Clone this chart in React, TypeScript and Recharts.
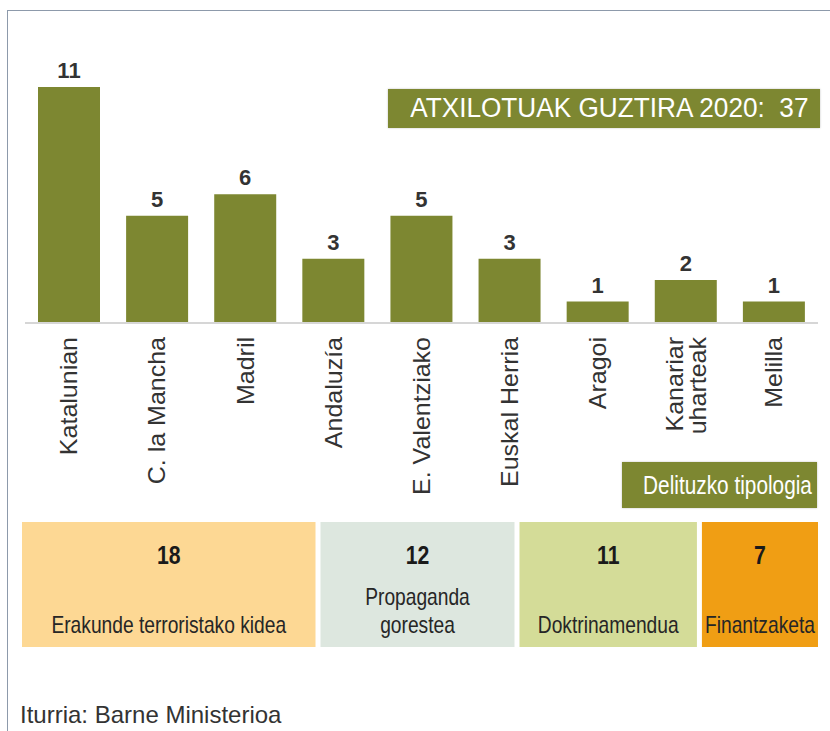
import { BarChart, Bar, XAxis, YAxis, LabelList } from 'recharts';

const categories = [
  'Katalunian',
  'C. la Mancha',
  'Madril',
  'Andaluzía',
  'E. Valentziako',
  'Euskal Herria',
  'Aragoi',
  'Kanariar\nuharteak',
  'Melilla',
];
const arrests = [11, 5, 6, 3, 5, 3, 1, 2, 1];

const typologyNames = ['Erakunde terroristako kidea', 'Propaganda\ngorestea', 'Doktrinamendua', 'Finantzaketa'];
const typologyValues = [18, 12, 11, 7];
const typologyColors = ['#fdd894', '#dde7df', '#d4dc98', '#f09e14'];

const totalLabel = 'ATXILOTUAK GUZTIRA 2020:  37';
const typologyTitle = 'Delituzko tipologia';
const sourceText = 'Iturria: Barne Ministerioa';

const OLIVE = '#7d8731';
const INK = '#333333';
const FONT = '"Liberation Sans", Arial, sans-serif';

const barData = categories.map((name, i) => ({ name, value: arrests[i] }));

const typologyRow: Record<string, number | string> = { row: 'guztira' };
typologyValues.forEach((v, i) => {
  typologyRow[`t${i}`] = v;
});

interface TickProps {
  x?: number;
  y?: number;
  payload?: { value: string };
}

// rotated category labels, multi-line names split on \n
const RotatedTick = ({ x = 0, y = 0, payload }: TickProps) => {
  const lines = String(payload?.value ?? '').split('\n');
  const lh = 25;
  const first = -((lines.length - 1) * lh) / 2;
  return (
    <g transform={`translate(${x},${y})`}>
      {lines.map((line, i) => (
        <text
          key={i}
          transform="rotate(-90) scale(1,0.92)"
          x={0}
          y={first + i * lh}
          dy="0.36em"
          textAnchor="end"
          fill={INK}
          fontSize={25}
          fontFamily={FONT}
        >
          {line}
        </text>
      ))}
    </g>
  );
};

interface BoxProps {
  x?: number;
  y?: number;
  width?: number;
  height?: number;
}

const GAP = 5;

// each typology segment: coloured box, bold count on top, name underneath
const makeBox = (i: number) => (props: BoxProps) => {
  const { x = 0, y = 0, width = 0, height = 0 } = props;
  const w = i === typologyValues.length - 1 ? width : width - GAP;
  const cx = x + w / 2;
  const lines = typologyNames[i].split('\n');
  const bottom = y + height - 14;
  return (
    <g>
      <rect x={x} y={y} width={w} height={height} fill={typologyColors[i]} />
      <text
        transform={`translate(${cx},${y + 42}) scale(0.85,1)`}
        textAnchor="middle"
        fontSize={25}
        fontWeight="bold"
        fill="#1a1a1a"
        fontFamily={FONT}
      >
        {typologyValues[i]}
      </text>
      {lines.map((line, k) => (
        <text
          key={k}
          transform={`translate(${cx},${bottom - (lines.length - 1 - k) * 28}) scale(0.8,1)`}
          textAnchor="middle"
          fontSize={24}
          fill="#262626"
          fontFamily={FONT}
        >
          {line}
        </text>
      ))}
    </g>
  );
};

export default function App() {
  return (
    <div style={{ position: 'absolute', left: 0, top: 0, width: 830, height: 731, background: '#fff', overflow: 'hidden', fontFamily: FONT }}>
      <div
        style={{
          position: 'absolute',
          left: 7,
          top: 10,
          width: 840,
          height: 740,
          borderTop: '1.5px solid #8d9aab',
          borderLeft: '1.5px solid #8d9aab',
        }}
      />
      <div style={{ position: 'absolute', left: 0, top: 0 }}>
        <BarChart width={830} height={520} data={barData} margin={{ top: 87, right: 12, left: 25, bottom: 0 }}>
          <XAxis
            dataKey="name"
            interval={0}
            height={197}
            tickLine={false}
            tickSize={6}
            tickMargin={8}
            axisLine={{ stroke: '#d6d6d6', strokeWidth: 2 }}
            tick={<RotatedTick />}
          />
          <YAxis hide domain={[0, 11]} width={0} />
          <Bar dataKey="value" fill={OLIVE} barSize={62} isAnimationActive={false}>
            <LabelList
              dataKey="value"
              position="top"
              offset={9}
              fill={INK}
              fontSize={22}
              fontWeight="bold"
              fontFamily={FONT}
            />
          </Bar>
        </BarChart>
      </div>
      <div
        style={{
          position: 'absolute',
          left: 388,
          top: 89,
          width: 432,
          height: 39,
          background: OLIVE,
          color: '#fff',
          fontSize: 27,
          lineHeight: '39px',
          textAlign: 'center',
          whiteSpace: 'pre',
          boxShadow: '0 0 2px rgba(0,0,0,0.25)',
        }}
      >
        <span style={{ display: 'inline-block', transform: 'scaleX(0.97)', marginLeft: 10 }}>{totalLabel}</span>
      </div>
      <div
        style={{
          position: 'absolute',
          left: 622,
          top: 462,
          width: 195,
          height: 46,
          background: OLIVE,
          color: '#fff',
          lineHeight: '46px',
          textAlign: 'center',
          whiteSpace: 'pre',
          boxShadow: '0 0 2px rgba(0,0,0,0.25)',
        }}
      >
        <span style={{ display: 'inline-block', fontSize: 26, transform: 'scaleX(0.8)' }}>{typologyTitle}</span>
      </div>
      <div style={{ position: 'absolute', left: 0, top: 512 }}>
        <BarChart
          width={830}
          height={145}
          layout="vertical"
          data={[typologyRow]}
          barCategoryGap="0%"
          margin={{ top: 10, right: 12, left: 22, bottom: 10 }}
        >
          <XAxis type="number" hide domain={[0, 48]} />
          <YAxis type="category" dataKey="row" hide width={0} />
          {typologyValues.map((_, i) => (
            <Bar key={i} dataKey={`t${i}`} stackId="a" shape={makeBox(i)} isAnimationActive={false} />
          ))}
        </BarChart>
      </div>
      <div
        style={{
          position: 'absolute',
          left: 20,
          top: 700,
          fontSize: 24,
          color: INK,
          lineHeight: '30px',
        }}
      >
        {sourceText}
      </div>
    </div>
  );
}
